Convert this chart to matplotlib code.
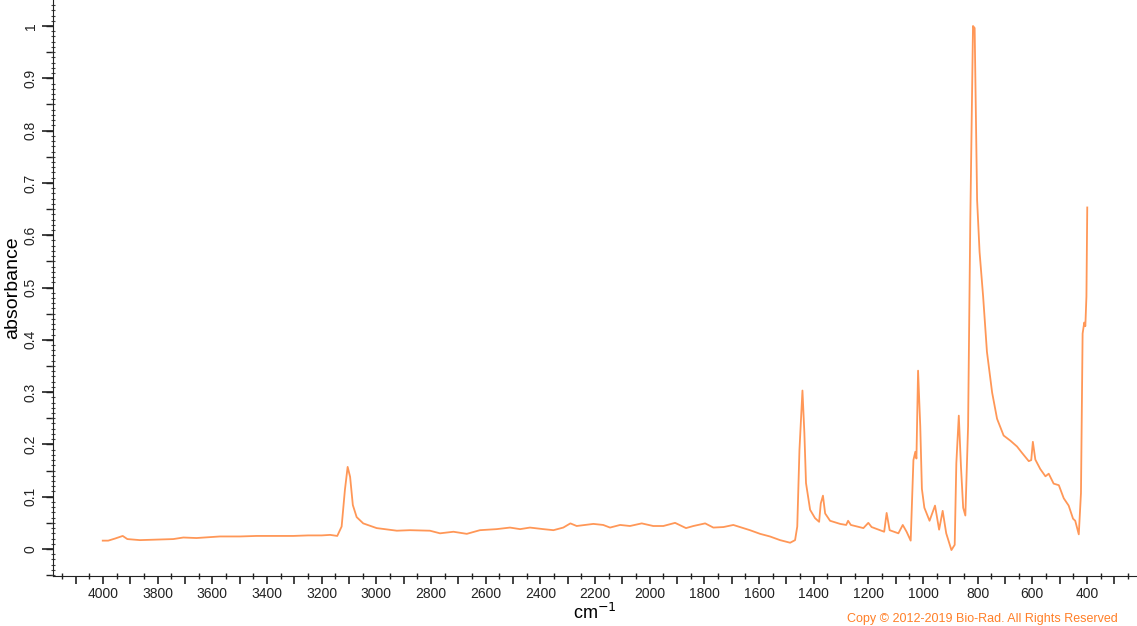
import matplotlib.pyplot as plt
from matplotlib.ticker import MultipleLocator, FuncFormatter

plt.rcParams['font.family'] = ['Liberation Sans', 'DejaVu Sans']

# wavenumber (cm-1) and absorbance
wavenumber = [4001, 3981, 3956, 3928, 3911, 3865, 3804, 3743, 3706, 3658,
              3572, 3499, 3438, 3377, 3304, 3250, 3200, 3169, 3143, 3127,
              3115, 3105, 3096, 3086, 3072, 3048, 2999, 2925, 2877, 2804,
              2767, 2718, 2669, 2621, 2560, 2511, 2474, 2438, 2389, 2352,
              2316, 2290, 2267, 2206, 2170, 2145, 2108, 2072, 2029, 1987,
              1950, 1907, 1867, 1840, 1797, 1767, 1730, 1694, 1663, 1633,
              1596, 1560, 1523, 1486, 1468, 1460, 1452, 1441, 1434, 1428,
              1413, 1395, 1380, 1374, 1366, 1358, 1340, 1303, 1281, 1274,
              1264, 1218, 1200, 1188, 1142, 1133, 1122, 1090, 1074, 1060,
              1045, 1035, 1028, 1024, 1018, 1010, 1004, 995, 976, 956,
              941, 928, 915, 896, 884, 878, 869, 861, 853, 845,
              835, 827, 817, 811, 802, 793, 780, 766, 747, 729,
              705, 680, 656, 638, 613, 604, 598, 589, 571, 552,
              540, 522, 503, 485, 467, 451, 443, 430, 422, 416,
              410, 406, 402, 399]
absorbance = [0.016, 0.016, 0.020, 0.025, 0.019, 0.017, 0.018, 0.019, 0.022, 0.021,
              0.024, 0.024, 0.025, 0.025, 0.025, 0.026, 0.026, 0.027, 0.025, 0.043,
              0.113, 0.157, 0.138, 0.084, 0.061, 0.049, 0.040, 0.035, 0.036, 0.035,
              0.030, 0.033, 0.029, 0.036, 0.038, 0.041, 0.038, 0.041, 0.038, 0.036,
              0.041, 0.049, 0.044, 0.048, 0.046, 0.041, 0.046, 0.044, 0.049, 0.044,
              0.044, 0.050, 0.040, 0.044, 0.049, 0.041, 0.042, 0.046, 0.041, 0.036,
              0.029, 0.024, 0.017, 0.012, 0.017, 0.043, 0.189, 0.303, 0.222, 0.126,
              0.075, 0.059, 0.052, 0.087, 0.102, 0.068, 0.054, 0.048, 0.046, 0.054,
              0.046, 0.040, 0.050, 0.042, 0.033, 0.069, 0.036, 0.030, 0.046, 0.033,
              0.016, 0.170, 0.186, 0.173, 0.341, 0.235, 0.115, 0.079, 0.054, 0.083,
              0.037, 0.073, 0.030, -0.002, 0.008, 0.164, 0.255, 0.157, 0.079, 0.064,
              0.235, 0.625, 1.000, 0.996, 0.667, 0.568, 0.483, 0.377, 0.299, 0.249,
              0.217, 0.207, 0.196, 0.184, 0.168, 0.170, 0.205, 0.171, 0.153, 0.139,
              0.144, 0.125, 0.122, 0.097, 0.083, 0.058, 0.054, 0.028, 0.107, 0.412,
              0.433, 0.426, 0.483, 0.653]

fig = plt.figure(figsize=(11.37, 6.26), dpi=100)
ax = fig.add_axes([53 / 1137, 50 / 626, 1 - 53 / 1137, 576 / 626])

ax.plot(wavenumber, absorbance, color='#ff8c45', lw=1.3, alpha=0.9)

ax.set_xlim(4183, 217)
ax.set_ylim(-0.0516, 1.0497)

for s in ['top', 'right']:
    ax.spines[s].set_visible(False)
ax.spines['left'].set_color('#222222')
ax.spines['bottom'].set_color('#222222')

ax.xaxis.set_major_locator(MultipleLocator(100))
ax.xaxis.set_minor_locator(MultipleLocator(50))
ax.xaxis.set_major_formatter(FuncFormatter(
    lambda v, p: '%d' % v if round(v) % 200 == 0 and 400 <= v <= 4000 else ''))
ax.yaxis.set_major_locator(MultipleLocator(0.1))
ax.yaxis.set_minor_locator(MultipleLocator(0.01))
ax.yaxis.set_major_formatter(FuncFormatter(
    lambda v, p: ('%g' % round(v, 1)) if -0.01 < v < 1.01 else ''))

ax.tick_params(axis='x', which='major', direction='out', length=6, width=1.2,
               labelsize=10, colors='#222222', pad=2)
ax.tick_params(axis='x', which='minor', direction='inout', length=4, width=1,
               colors='#222222')
ax.tick_params(axis='y', which='major', direction='out', length=8, width=1.2,
               labelsize=10, colors='#222222', pad=3)
ax.tick_params(axis='y', which='minor', direction='inout', length=3, width=0.8,
               colors='#444444')
plt.setp(ax.get_yticklabels(), rotation=90, va='center')

# medium ticks at every 0.05
mid = ax.secondary_yaxis('left')
mid.spines['left'].set_visible(False)
mid.set_yticks([i * 0.05 for i in range(-1, 21)])
mid.tick_params(direction='out', length=5, width=1, colors='#222222', labelleft=False)

ax.set_ylabel('absorbance', fontsize=14, va='center')
ax.yaxis.set_label_coords((13 - 53) / 1084, 0.5)
ax.set_xlabel('cm$^{-1}$', fontsize=13, labelpad=1)

fig.text(847 / 1137, 0.002, 'Copy \u00a9 2012-2019 Bio-Rad. All Rights Reserved',
         color='#ff7f27', fontsize=9, va='bottom', ha='left')

fig.savefig('out.png', dpi=100)
